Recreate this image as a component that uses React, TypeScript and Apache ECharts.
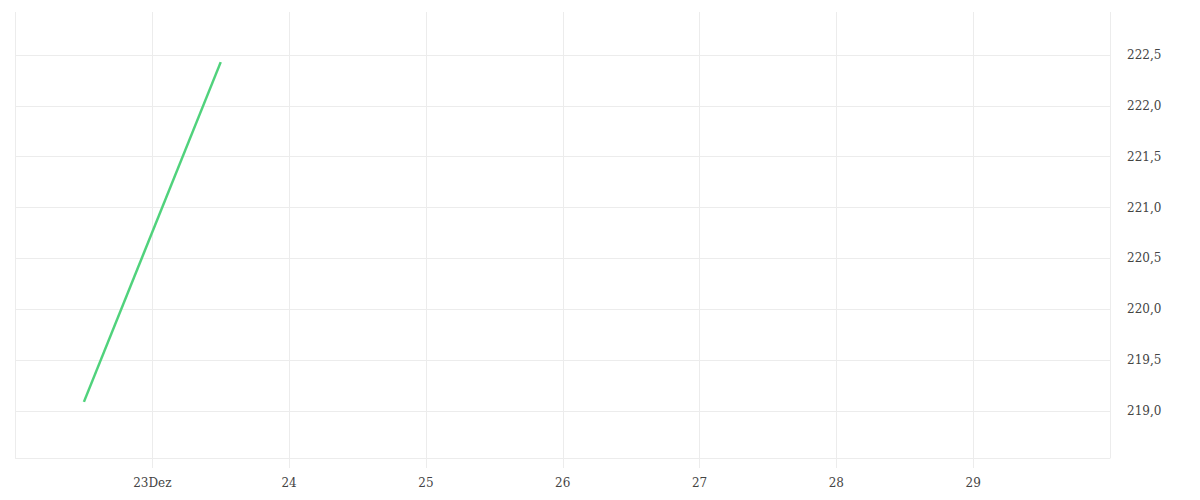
import React, { useEffect, useRef } from 'react';
import * as echarts from 'echarts';

const DAY = 86400000;
const times = [Date.UTC(2023, 11, 22, 12), Date.UTC(2023, 11, 23, 12)];
const prices = [219.09, 222.43];
const yTicks = [219.0, 219.5, 220.0, 220.5, 221.0, 221.5, 222.0, 222.5];
const dayLabels: { [day: number]: string } = {
    23: '23Dez', 24: '24', 25: '25', 26: '26', 27: '27', 28: '28', 29: '29'
};

const App: React.FC = () => {
    const chartRef = useRef<HTMLDivElement>(null);

    useEffect(() => {
        if (!chartRef.current) return;
        const chart = echarts.init(chartRef.current, null, { renderer: 'svg' });
        const gridColor = '#ececec';
        const font = '"DejaVu Serif", serif';
        chart.setOption({
            animation: false,
            textStyle: { fontFamily: font },
            grid: { left: 7.5, right: 82, top: 4, bottom: 34 },
            xAxis: {
                type: 'value',
                min: Date.UTC(2023, 11, 22),
                max: Date.UTC(2023, 11, 30),
                interval: DAY,
                axisLine: { show: true, lineStyle: { color: gridColor } },
                axisTick: { show: true, length: 10, lineStyle: { color: gridColor } },
                splitLine: { show: true, lineStyle: { color: gridColor } },
                axisLabel: {
                    margin: 19,
                    color: '#444',
                    fontSize: 12,
                    fontFamily: font,
                    showMinLabel: false,
                    showMaxLabel: false,
                    formatter: (v: number) => dayLabels[new Date(v).getUTCDate()] || ''
                }
            },
            yAxis: {
                type: 'value',
                position: 'right',
                min: 218.538,
                max: 222.923,
                axisLine: { show: false },
                axisTick: { show: false, customValues: yTicks },
                splitLine: { show: true, lineStyle: { color: gridColor } },
                axisLabel: {
                    customValues: yTicks,
                    margin: 17,
                    color: '#444',
                    fontSize: 12,
                    fontFamily: font,
                    verticalAlign: 'middle',
                    padding: [6, 0, 0, 0],
                    formatter: (v: number) => v.toFixed(1).replace('.', ',')
                }
            },
            series: [
                {
                    type: 'line',
                    data: times.map((t, i) => [t, prices[i]]),
                    showSymbol: false,
                    lineStyle: { color: '#50d27c', width: 2.5 },
                    itemStyle: { color: '#50d27c' }
                }
            ]
        });
        return () => chart.dispose();
    }, []);

    return <div ref={chartRef} style={{ width: 1184, height: 484 }} />;
};

export default App;
